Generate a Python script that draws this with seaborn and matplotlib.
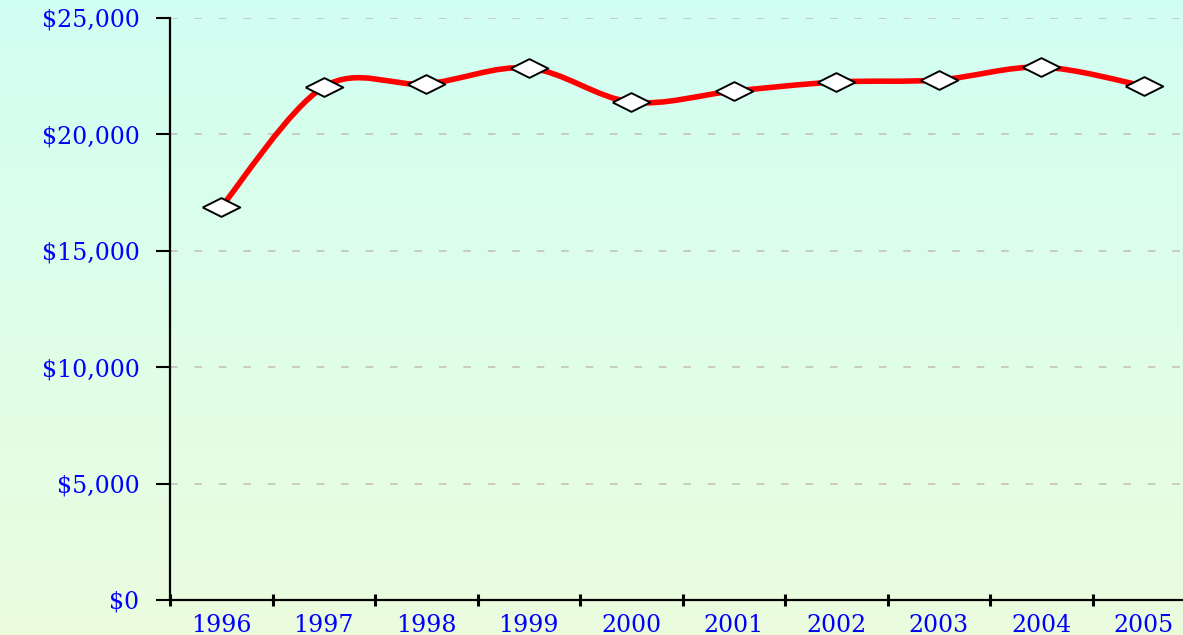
import matplotlib
matplotlib.use("Agg")
import matplotlib.pyplot as plt
from matplotlib.path import Path
from matplotlib.patches import PathPatch
from matplotlib.ticker import FuncFormatter
import numpy as np
import pandas as pd
import seaborn as sns

# values
years = ["1996", "1997", "1998", "1999", "2000", "2001", "2002", "2003", "2004", "2005"]
values = [16880, 22040, 22170, 22850, 21390, 21860, 22250, 22340, 22890, 22080]
y_ticks = [0, 5000, 10000, 15000, 20000, 25000]

df = pd.DataFrame({"pos": np.arange(len(years)), "value": values})

sns.set_style("white")
plt.rcParams["font.family"] = ["DejaVu Serif"]

fig = plt.figure(figsize=(11.83, 6.35), dpi=100)

# gradient background over the whole figure
bg = fig.add_axes([0, 0, 1, 1], zorder=-5)
top = np.array([0.82, 1.0, 0.95])
bot = np.array([0.925, 0.99, 0.87])
t = np.linspace(0, 1, 256)[:, None]
grad = top[None, :] * (1 - t) + bot[None, :] * t
bg.imshow(grad[:, None, :], aspect="auto", extent=[0, 1, 0, 1])
bg.set_axis_off()

ax = fig.add_axes([170 / 1183, 35 / 635, 1025 / 1183, 582 / 635])
ax.set_facecolor("none")

# smoothed red line (Bezier segments through the yearly points)
pts = np.column_stack([df["pos"], df["value"]]).astype(float)
ext = np.vstack([pts[0], pts, pts[-1]])
verts = [tuple(pts[0])]
codes = [Path.MOVETO]
for i in range(len(pts) - 1):
    p0, p1, p2, p3 = ext[i], ext[i + 1], ext[i + 2], ext[i + 3]
    c1 = p1 + (p2 - p0) / 6
    c2 = p2 - (p3 - p1) / 6
    verts += [tuple(c1), tuple(c2), tuple(p2)]
    codes += [Path.CURVE4] * 3
ax.add_patch(PathPatch(Path(verts, codes), facecolor="none", edgecolor="#ff0000",
                       lw=4.0, capstyle="round", joinstyle="round", zorder=3))

# diamond markers
diamond = [(-1, 0), (0, 0.5), (1, 0), (0, -0.5), (-1, 0)]
sns.lineplot(data=df, x="pos", y="value", ax=ax, linestyle="none", marker=diamond,
             markersize=27, markerfacecolor="white", markeredgecolor="black",
             markeredgewidth=1.4, zorder=4)

ax.set_xlim(-0.5, 9.5)
ax.set_ylim(0, 25000)
ax.set_xlabel("")
ax.set_ylabel("")

for y in y_ticks[1:]:
    ax.axhline(y, color="#c4bcbc", lw=1.1, dashes=(5, 11), zorder=1)

ax.set_yticks(y_ticks)
ax.yaxis.set_major_formatter(FuncFormatter(lambda v, p: f"${v:,.0f}"))
ax.tick_params(axis="y", direction="out", length=10, width=1.5, color="black",
               labelsize=17, labelcolor="#0000ff", pad=12, left=True)

ax.set_xticks(np.arange(-0.5, 10, 1))
ax.set_xticklabels([])
ax.set_xticks(np.arange(len(years)), minor=True)
ax.set_xticklabels(years, minor=True)
ax.tick_params(axis="x", which="major", direction="inout", length=8, width=2.2,
               color="black", bottom=True)
ax.tick_params(axis="x", which="minor", length=0, labelsize=17,
               labelcolor="#0000ff", pad=10)

for s in ["top", "right"]:
    ax.spines[s].set_visible(False)
for s in ["left", "bottom"]:
    ax.spines[s].set_color("black")
    ax.spines[s].set_linewidth(1.6)

fig.savefig("out.png", dpi=100)
